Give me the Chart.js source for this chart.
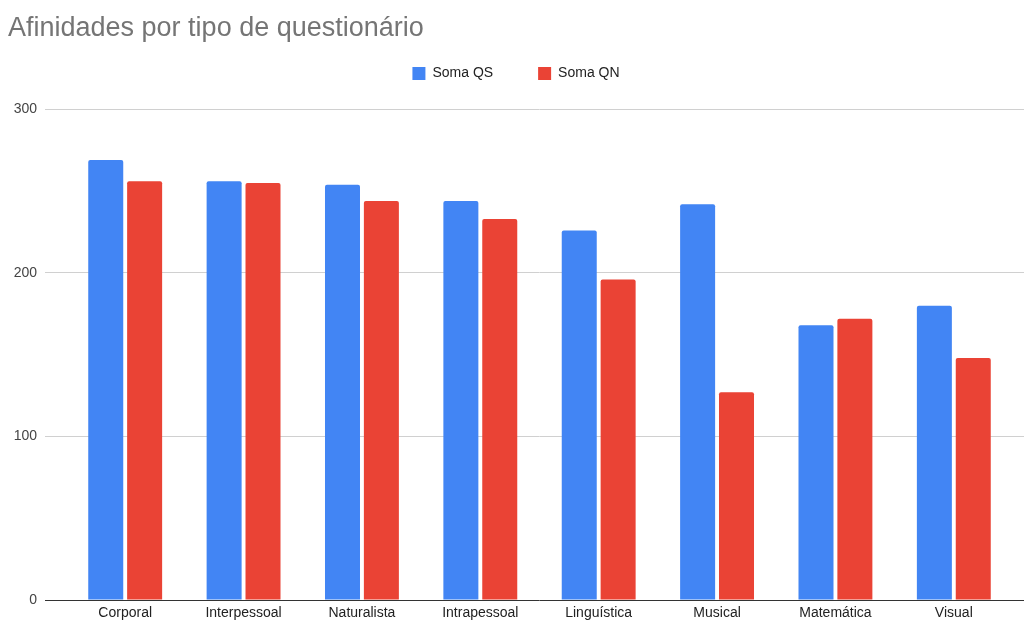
<!DOCTYPE html>
<html>
<head>
<meta charset="utf-8">
<script src="https://cdn.jsdelivr.net/npm/chart.js@4"></script>
<style>
  html, body { margin: 0; padding: 0; background: #fff; }
  #wrap { width: 1026px; height: 621px; }
</style>
</head>
<body>
<div id="wrap"><canvas id="chart"></canvas></div>
<script>
const categories = ["Corporal", "Interpessoal", "Naturalista", "Intrapessoal", "Linguística", "Musical", "Matemática", "Visual"];
const somaQS = [269, 256, 254, 244, 226, 242, 168, 180];
const somaQN = [256, 255, 244, 233, 196, 127, 172, 148];
const yTicks = [0, 100, 200, 300];

const FONT = "'Liberation Sans', Arial, sans-serif";

// baseline is dark, the other gridlines light grey
const gridColor = (ctx) => (ctx.tick && ctx.tick.value === 0 ? "#333333" : "#d0d0d0");

// extra room between the legend and the plot
const legendGap = {
  id: "legendGap",
  beforeLayout(chart) {
    const legend = chart.legend;
    if (!legend || legend._gapDone) return;
    const fit = legend.fit;
    legend.fit = function () {
      fit.call(this);
      this.height += 19;
    };
    legend._gapDone = true;
  },
};

Chart.defaults.font.family = FONT;
Chart.defaults.animation = false;

new Chart(document.getElementById("chart"), {
  type: "bar",
  data: {
    labels: categories,
    datasets: [
      {
        label: "Soma QS",
        data: somaQS,
        backgroundColor: "#4285f4",
        borderRadius: 2,
        categoryPercentage: 0.657,
        barPercentage: 0.9,
      },
      {
        label: "Soma QN",
        data: somaQN,
        backgroundColor: "#ea4335",
        borderRadius: 2,
        categoryPercentage: 0.657,
        barPercentage: 0.9,
      },
    ],
  },
  options: {
    responsive: true,
    maintainAspectRatio: false,
    layout: { padding: { left: 8, right: 2, top: 0, bottom: 0 } },
    plugins: {
      title: {
        display: true,
        text: "Afinidades por tipo de questionário",
        align: "start",
        color: "#757575",
        font: { size: 27, weight: "normal", family: FONT },
        padding: { top: 12, bottom: 12 },
      },
      legend: {
        position: "top",
        labels: {
          boxWidth: 13,
          boxHeight: 13,
          padding: 10,
          color: "#222222",
          font: { size: 14, family: FONT },
          generateLabels(chart) {
            const items = Chart.defaults.plugins.legend.labels.generateLabels(chart);
            // widen the first entry so the two keys sit apart
            items[0].text = items[0].text + "\u2002\u2002\u2002\u2002\u2002";
            items.forEach((it) => { it.lineWidth = 0; });
            return items;
          },
        },
      },
      tooltip: { enabled: false },
    },
    scales: {
      x: {
        grid: { display: false, drawTicks: false },
        border: { display: false },
        afterFit(scale) { scale.height = 21; },
        ticks: {
          color: "#222222",
          font: { size: 14, family: FONT },
          padding: 5,
          maxRotation: 0,
          autoSkip: false,
        },
      },
      y: {
        position: "left",
        min: 0,
        max: 300,
        afterBuildTicks(scale) { scale.ticks = yTicks.map((v) => ({ value: v })); },
        afterFit(scale) { scale.width = 58; },
        grid: { color: gridColor, tickLength: 21, lineWidth: 1 },
        border: { display: false },
        ticks: {
          color: "#444444",
          font: { size: 14, family: FONT },
          padding: 8,
        },
      },
      y2: {
        position: "right",
        min: 0,
        max: 300,
        afterBuildTicks(scale) { scale.ticks = yTicks.map((v) => ({ value: v })); },
        afterFit(scale) { scale.width = 11; },
        grid: { color: gridColor, tickLength: 11, drawOnChartArea: false },
        border: { display: false },
        ticks: { display: false, padding: 0 },
      },
    },
  },
  plugins: [legendGap],
});
</script>
</body>
</html>
